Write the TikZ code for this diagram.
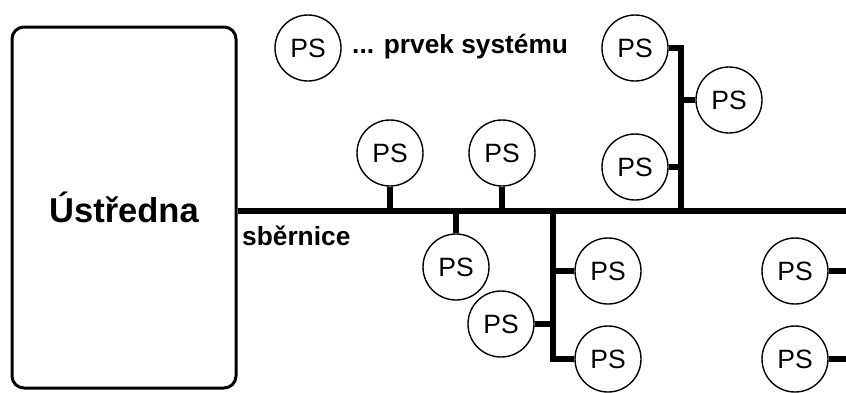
\documentclass[tikz,border=0pt]{standalone}
\usepackage{fontspec}
\setmainfont{Liberation Sans}
\begin{document}
\begin{tikzpicture}[x=1pt,y=-1pt,
  ps/.style={circle,draw,line width=1.4pt,minimum size=66pt,inner sep=0pt,
    font=\fontsize{26.5}{30}\selectfont},
  wire/.style={line width=6.5pt,line join=miter},
  lbl/.style={font=\bfseries\fontsize{26.3}{30}\selectfont,inner sep=0pt}]
\useasboundingbox (0,0) rectangle (846,392);

% control unit
\node[draw,line width=3pt,rounded corners=12pt,minimum width=224pt,minimum height=361pt,
      inner sep=0pt,font=\bfseries\fontsize{34.5}{40}\selectfont] (hub) at (124,207.5) {Ústředna};

% legend
\node[ps] (leg) at (308,48) {PS};
\node[lbl,anchor=base west] (legtxt) at (352,53) {... prvek systému};

% bus
\coordinate (busR) at (846,211);
\draw[wire] (hub.east |- busR) -- (busR);
\node[lbl,anchor=base west] (busname) at (242,245) {sběrnice};

% elements directly on the bus
\node[ps] (a1) at (390,153) {PS};
\node[ps] (a2) at (502,153) {PS};
\node[ps] (a3) at (456,267) {PS};
\draw[wire] (a1.south) -- (a1.south |- busR);
\draw[wire] (a2.south) -- (a2.south |- busR);
\draw[wire] (a3.north) -- (a3.north |- busR);

% lower branch
\coordinate (b1top) at (553,211);
\node[ps] (b1) at (501,324) {PS};
\node[ps] (b2) at (608,271) {PS};
\node[ps] (b3) at (608,359) {PS};
\draw[wire] (b1top) -- (b1top |- b3) -- (b3.west);
\draw[wire] (b1.east) -- (b1top |- b1);
\draw[wire] (b2.west) -- (b1top |- b2);

% upper branch
\coordinate (c0) at (681,211);
\node[ps] (c1) at (635,48) {PS};
\node[ps] (c2) at (729,100) {PS};
\node[ps] (c3) at (635,167) {PS};
\draw[wire] (c1.east) -- (c0 |- c1) -- (c0);
\draw[wire] (c2.west) -- (c0 |- c2);
\draw[wire] (c3.east) -- (c0 |- c3);

% elements continuing to the right
\coordinate (edge) at (846,0);
\node[ps] (d1) at (795,271) {PS};
\node[ps] (d2) at (795,359) {PS};
\draw[wire] (d1.east) -- (edge |- d1);
\draw[wire] (d2.east) -- (edge |- d2);
\end{tikzpicture}
\end{document}
